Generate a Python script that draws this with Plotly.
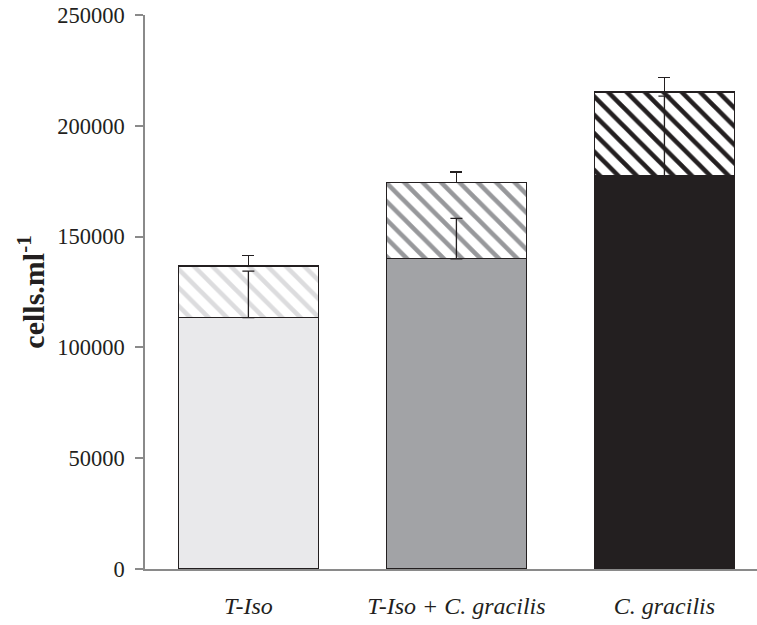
import plotly.graph_objects as go

categories = ["T-Iso", "T-Iso + C. gracilis", "C. gracilis"]
lower_values = [113400, 140000, 177300]
upper_values = [23400, 34300, 37900]
lower_errors = [21000, 18200, 36100]
upper_errors = [4800, 4900, 6700]

solid_colors = ["#e9e9eb", "#a2a3a6", "#231f20"]
hatch_colors = ["#dcdcde", "#97989b", "#231f20"]
y_ticks = [0, 50000, 100000, 150000, 200000, 250000]

fig = go.Figure()

fig.add_trace(go.Bar(
    x=categories, y=lower_values, width=0.672,
    marker=dict(color=solid_colors, line=dict(color="#231f20", width=1.3)),
    showlegend=False,
))
fig.add_trace(go.Bar(
    x=categories, y=upper_values, width=0.672,
    marker=dict(
        color="white",
        line=dict(color="#231f20", width=1.3),
        pattern=dict(shape="\\", fgcolor=hatch_colors, bgcolor="white",
                     fgopacity=1, size=13, solidity=0.35, fillmode="replace"),
    ),
    error_y=dict(type="data", array=upper_errors, arrayminus=[0, 0, 0],
                 symmetric=False, color="#231f20", thickness=1.3, width=6),
    showlegend=False,
))
fig.add_trace(go.Scatter(
    x=categories, y=lower_values, mode="markers",
    marker=dict(size=1, color="rgba(0,0,0,0)"),
    error_y=dict(type="data", array=lower_errors, arrayminus=[0, 0, 0],
                 symmetric=False, color="#231f20", thickness=1.3, width=6),
    showlegend=False, hoverinfo="skip",
))

font_family = "Liberation Serif, Times New Roman, serif"
fig.update_layout(
    barmode="stack",
    width=757, height=625,
    margin=dict(l=145, r=0, t=15, b=56, pad=0),
    plot_bgcolor="white", paper_bgcolor="white",
    font=dict(family=font_family, color="#231f20", size=20),
    xaxis=dict(
        type="category", range=[-0.497, 2.445],
        showline=True, linecolor="#8a8a8a", linewidth=1.5,
        ticks="", showgrid=False, zeroline=False,
        tickfont=dict(family=font_family, size=24, style="italic", color="#231f20"),
        ticklabelstandoff=14,
    ),
    yaxis=dict(
        range=[0, 250000], tickvals=y_ticks, tickformat="d",
        showline=True, linecolor="#8a8a8a", linewidth=1.5,
        ticks="outside", ticklen=8, tickcolor="#8a8a8a", tickwidth=1.5,
        showgrid=False, zeroline=False,
        tickfont=dict(family=font_family, size=22.5, color="#231f20"),
        ticklabelstandoff=6, ticklabeloverflow="allow",
        title=dict(text="<b>cells.ml<sup>-1</sup></b>",
                   font=dict(family=font_family, size=30, color="#231f20"),
                   standoff=4),
    ),
)

fig.write_html("out.html",
               config={"displayModeBar": False},
               post_script="document.body.style.margin='0px';document.body.style.overflow='hidden';")
